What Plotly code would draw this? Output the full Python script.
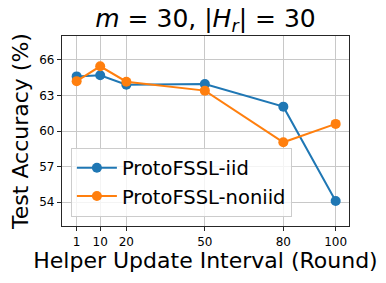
import plotly.graph_objects as go

intervals = [1, 10, 20, 50, 80, 100]
acc_iid = [64.6, 64.7, 63.9, 63.95, 62.05, 54.1]
acc_noniid = [64.2, 65.45, 64.15, 63.4, 59.05, 60.6]
y_ticks = [54, 57, 60, 63, 66]

BLUE = "#1f77b4"
ORANGE = "#ff7f0e"
FONT = "DejaVu Sans"

fig = go.Figure()
fig.add_trace(go.Scatter(x=intervals, y=acc_iid, mode="lines+markers", name="ProtoFSSL-iid",
                         line=dict(color=BLUE, width=2), marker=dict(color=BLUE, size=10)))
fig.add_trace(go.Scatter(x=intervals, y=acc_noniid, mode="lines+markers", name="ProtoFSSL-noniid",
                         line=dict(color=ORANGE, width=2), marker=dict(color=ORANGE, size=10)))

fig.update_layout(
    width=386, height=283,
    margin=dict(l=62, r=37, t=36, b=57, autoexpand=False),
    paper_bgcolor="white", plot_bgcolor="white",
    font=dict(family=FONT, color="black"),
    title=dict(text="<i>m</i> = 30, |<i>H</i><sub><i>r</i></sub>| = 30",
               x=(62 + (386 - 37 - 62) / 2) / 386, xanchor="center", y=0.935, yanchor="middle",
               font=dict(size=25, family=FONT)),
    showlegend=True,
    legend=dict(x=0.031, y=0.05, xanchor="left", yanchor="bottom",
                bgcolor="rgba(255,255,255,0.8)", bordercolor="#cccccc", borderwidth=1,
                font=dict(size=19.5, family=FONT), itemwidth=40, tracegroupgap=0),
)
fig.update_xaxes(
    range=[-4.6, 105.1], tickvals=intervals, ticktext=[str(v) for v in intervals],
    showgrid=True, gridcolor="#c8c8c8", gridwidth=1,
    showline=True, linecolor="#262626", linewidth=1.2, mirror=True,
    ticks="outside", ticklen=4, tickcolor="#262626",
    tickfont=dict(size=12, family=FONT), zeroline=False, automargin=False,
    title=dict(text="Helper Update Interval (Round)", font=dict(size=22, family=FONT), standoff=4),
)
fig.update_yaxes(
    range=[52, 68], tickvals=y_ticks, ticktext=[str(v) for v in y_ticks],
    showgrid=True, gridcolor="#c8c8c8", gridwidth=1,
    showline=True, linecolor="#262626", linewidth=1.2, mirror=True,
    ticks="outside", ticklen=4, tickcolor="#262626",
    tickfont=dict(size=12, family=FONT), zeroline=False, automargin=False,
    title=dict(text="Test Accuracy (%)", font=dict(size=22, family=FONT), standoff=4),
)

fig.write_html("out.html", config={"displayModeBar": False},
               post_script="document.body.style.margin='0';")
